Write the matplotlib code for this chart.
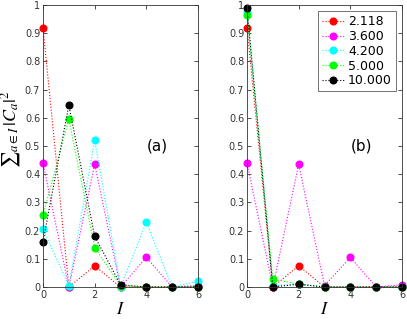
import matplotlib
matplotlib.use('Agg')
import matplotlib.pyplot as plt

plt.rcParams['mathtext.fontset'] = 'stix'
plt.rcParams['font.family'] = 'DejaVu Sans'

I_vals = [0, 1, 2, 3, 4, 5, 6]
labels = ['2.118', '3.600', '4.200', '5.000', '10.000']
colors = ['#ff0000', '#ff00ff', '#00ffff', '#00ff00', '#000000']

# panel (a)
a_red = [0.92, 0.0, 0.075, 0.0, 0.0, 0.0, 0.0]
a_magenta = [0.44, 0.0, 0.435, 0.0, 0.105, 0.0, 0.005]
a_cyan = [0.205, 0.005, 0.52, 0.0, 0.23, 0.0, 0.02]
a_green = [0.255, 0.595, 0.14, 0.005, 0.0, 0.0, 0.0]
a_black = [0.16, 0.645, 0.18, 0.008, 0.0, 0.0, 0.0]

# panel (b)
b_red = [0.92, 0.0, 0.075, 0.0, 0.0, 0.0, 0.0]
b_magenta = [0.44, 0.0, 0.435, 0.005, 0.105, 0.0, 0.008]
b_cyan = [0.975, 0.005, 0.01, 0.0, 0.0, 0.0, 0.0]
b_green = [0.965, 0.028, 0.01, 0.0, 0.0, 0.0, 0.0]
b_black = [0.99, 0.0, 0.01, 0.0, 0.0, 0.0, 0.0]

panels = [
    ([a_red, a_magenta, a_cyan, a_green, a_black], '(a)'),
    ([b_red, b_magenta, b_cyan, b_green, b_black], '(b)'),
]

fig = plt.figure(figsize=(4.07, 3.19), dpi=100)
W, H = 407, 319
ax_a = fig.add_axes([43 / W, 1 - 287 / H, 155 / W, 282 / H])
ax_b = fig.add_axes([247 / W, 1 - 287 / H, 155 / W, 282 / H])

for ax, (series, tag) in zip([ax_a, ax_b], panels):
    for vals, c, lab in zip(series, colors, labels):
        ax.plot(I_vals, vals, linestyle=':', linewidth=0.8, color=c,
                marker='o', markersize=4.8, markeredgecolor=c, label=lab,
                clip_on=False)
    ax.set_xlim(0, 6)
    ax.set_ylim(0, 1)
    ax.set_xticks([0, 2, 4, 6])
    ax.set_yticks([0, 0.1, 0.2, 0.3, 0.4, 0.5, 0.6, 0.7, 0.8, 0.9, 1])
    ax.set_yticklabels(['0', '0.1', '0.2', '0.3', '0.4', '0.5', '0.6',
                        '0.7', '0.8', '0.9', '1'])
    ax.tick_params(direction='in', top=True, right=True, labelsize=7,
                   length=3, width=0.6, colors='#333333', pad=2)
    for s in ax.spines.values():
        s.set_linewidth(0.6)
        s.set_color('#333333')
    ax.text(0.74, 0.5, tag, transform=ax.transAxes, fontsize=11,
            ha='center', va='center')
    ax.set_xlabel(r'$I$', fontsize=13, labelpad=0)

ax_a.set_ylabel(r'${\sum}_{a\in I}\,|C_a|^2$', fontsize=13)
ax_a.yaxis.set_label_coords(-0.13, 0.557)

leg = ax_b.legend(loc='upper right', fontsize=9, frameon=True, fancybox=False,
                  edgecolor='#333333', handlelength=1.8, handletextpad=0.3,
                  borderpad=0.3, labelspacing=0.15, borderaxespad=0.5)
leg.get_frame().set_linewidth(0.6)

fig.savefig('out.png', dpi=100)
